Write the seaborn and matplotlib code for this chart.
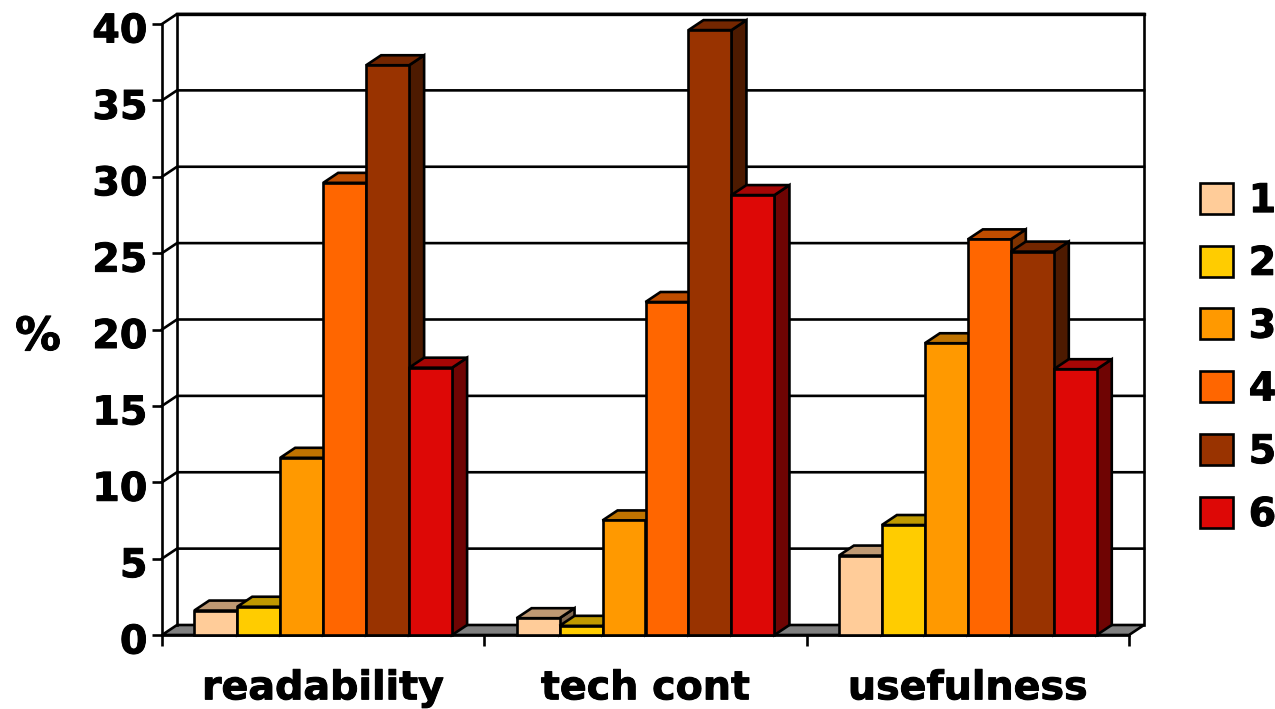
import matplotlib
matplotlib.use('Agg')
import matplotlib.patheffects as pe
import matplotlib.pyplot as plt
import pandas as pd
import seaborn as sns
from matplotlib.colors import to_rgb
from matplotlib.patches import Polygon
from matplotlib.transforms import ScaledTranslation

aspects = ['readability', 'tech cont', 'usefulness']
ratings = ['1', '2', '3', '4', '5', '6']
colors = ['#FFCC99', '#FFCC00', '#FF9900', '#FF6600', '#993300', '#DD0806']

readability = [1.6, 1.85, 11.6, 29.6, 37.3, 17.5]
tech_cont = [1.1, 0.6, 7.5, 21.8, 39.6, 28.8]
usefulness = [5.2, 7.2, 19.1, 25.9, 25.1, 17.4]
yticks = [0, 5, 10, 15, 20, 25, 30, 35, 40]

rows = []
for aspect, vals in zip(aspects, [readability, tech_cont, usefulness]):
    for r, v in zip(ratings, vals):
        rows.append({'aspect': aspect, 'rating': r, 'pct': v})
df = pd.DataFrame(rows)

W, H = 1275, 709
fig = plt.figure(figsize=(W / 100, H / 100), dpi=100)
ax = fig.add_axes([162 / W, 1 - 635 / H, (1129 - 162) / W, (635 - 24) / H])

lw = 1.9
sns.barplot(data=df, x='aspect', y='pct', hue='rating', palette=colors,
            width=0.8, gap=0, saturation=1, edgecolor='black', linewidth=lw,
            order=aspects, hue_order=ratings, ax=ax)
ax.set_xlim(-0.5, 2.5)
ax.set_ylim(0, 40)

# depth of the fake 3d box, 15px across and 10px up
ddx = 15 / ((1129 - 162) / 3)
ddy = 10 / ((635 - 24) / 40)
x0, x1 = ax.get_xlim()

# floor and back wall
ax.add_patch(Polygon([(x0, 0), (x0 + ddx, ddy), (x1 + ddx, ddy), (x1, 0)], closed=True,
                     facecolor='#808080', edgecolor='black', linewidth=lw,
                     clip_on=False, zorder=1))
for v in yticks[1:]:
    ax.plot([x0, x0 + ddx, x1 + ddx], [v, v + ddy, v + ddy], color='black', lw=lw,
            clip_on=False, zorder=1, solid_joinstyle='miter')
ax.plot([x0 + ddx, x0 + ddx], [ddy, 40 + ddy], color='black', lw=lw, clip_on=False, zorder=1)
ax.plot([x1 + ddx, x1 + ddx], [ddy, 40 + ddy], color='black', lw=lw, clip_on=False, zorder=1)
ax.plot([x0 + ddx, x1 + ddx], [40 + ddy, 40 + ddy], color='black', lw=2.4, clip_on=False, zorder=1)


def shade(c, k):
    return tuple(k * p for p in to_rgb(c))


# tops and sides on each bar, painted left to right so neighbours overlap properly
z = 3
for i in range(len(aspects)):
    for j, cont in enumerate(ax.containers):
        bar = cont.patches[i]
        bx, bw, bh = bar.get_x(), bar.get_width(), bar.get_height()
        side = Polygon([(bx + bw, 0), (bx + bw + ddx, ddy), (bx + bw + ddx, bh + ddy), (bx + bw, bh)],
                       closed=True, facecolor=shade(colors[j], 0.5), edgecolor='black',
                       linewidth=lw, clip_on=False, zorder=z)
        top = Polygon([(bx, bh), (bx + ddx, bh + ddy), (bx + bw + ddx, bh + ddy), (bx + bw, bh)],
                      closed=True, facecolor=shade(colors[j], 0.75), edgecolor='black',
                      linewidth=lw, clip_on=False, zorder=z + 0.1)
        ax.add_patch(side)
        ax.add_patch(top)
        bar.set_zorder(z + 0.2)
        bar.set_clip_on(False)
        z += 1

sns.despine(ax=ax, top=True, right=True)
for s in ['left', 'bottom']:
    ax.spines[s].set_linewidth(lw)
    ax.spines[s].set_zorder(2)

font = 'DejaVu Sans'
fs = 28.5
heavy = [pe.withStroke(linewidth=0.7, foreground='black')]

ax.set_yticks(yticks)
ax.set_yticklabels([str(v) for v in yticks], fontsize=fs, fontweight='bold', family=font)
ax.tick_params(axis='y', length=7.5, width=lw, pad=3)
ax.set_xticks(range(3))
ax.set_xticklabels(aspects, fontsize=fs, fontweight='bold', family=font)
ax.set_xticks([-0.5, 0.5, 1.5, 2.5], minor=True)
ax.tick_params(axis='x', which='major', length=0, pad=24)
ax.tick_params(axis='x', which='minor', length=8, width=lw)

# the y labels sit a little under their ticks in the original
shift = ScaledTranslation(0, -3 / 100, fig.dpi_scale_trans)
for t in ax.get_yticklabels():
    t.set_transform(t.get_transform() + shift)
    t.set_path_effects(heavy)
for t in ax.get_xticklabels():
    t.set_path_effects(heavy)

ax.set_xlabel('')
ax.set_ylabel('%', rotation=0, fontsize=33, fontweight='bold', family=font, path_effects=heavy)
ax.yaxis.set_label_coords((38 - 162) / (1129 - 162), 0.487)
ax.yaxis.label.set_va('center')

handles, labels = ax.get_legend_handles_labels()
leg = ax.legend(handles, labels, loc='center left', bbox_to_anchor=(1200 / W, 1 - 358 / H),
                bbox_transform=fig.transFigure, frameon=False, borderpad=0, borderaxespad=0,
                handlelength=0.83, handleheight=0.83, handletextpad=0.4, labelspacing=0.575,
                prop={'family': font, 'weight': 'bold', 'size': fs})
for t in leg.get_texts():
    t.set_path_effects(heavy)

fig.savefig('out.png', dpi=100)
